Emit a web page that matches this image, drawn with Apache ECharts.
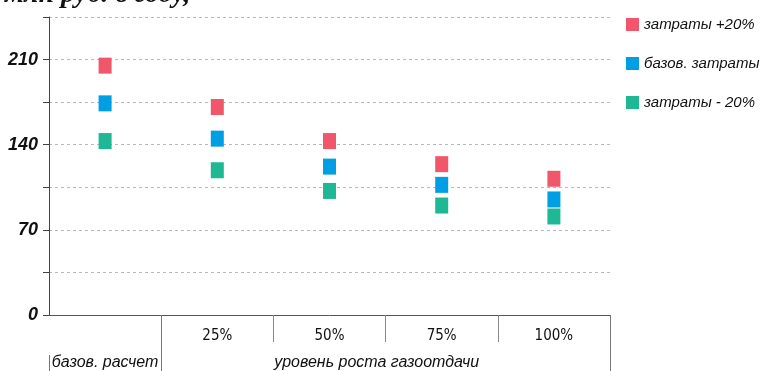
<!DOCTYPE html>
<html>
<head>
<meta charset="utf-8">
<script src="https://cdn.jsdelivr.net/npm/echarts@6/dist/echarts.min.js"></script>
<style>
  html, body { margin: 0; padding: 0; background: #fff; }
  #chart { width: 765px; height: 371px; }
</style>
</head>
<body>
<div id="chart"></div>
<script>
// Categories: base case, then gas-recovery growth levels
const categories = ['базов. расчет', '25%', '50%', '75%', '100%'];
const categoryLabels = ['', '25%', '50%', '75%', '100%'];
const groupLabels = ['базов. расчет', 'уровень роста газоотдачи'];

// Values per cost scenario
const costsPlus20 = [205, 171, 143, 124, 112];
const costsBase = [174, 145, 122, 107, 95];
const costsMinus20 = [143, 119, 102, 90, 81];

const seriesNames = ['затраты +20%', 'базов. затраты', 'затраты - 20%'];
const seriesColors = ['#f1576a', '#009fe3', '#1fb894'];

// Y axis ticks every 35, labelled every 70
const yMin = 0, yMax = 245, yStep = 35, yLabelStep = 70;

const chart = echarts.init(document.getElementById('chart'), null, { renderer: 'canvas' });

const bandAxisBase = {
  type: 'value', min: 0, max: categories.length, position: 'bottom',
  axisLine: { show: false }, splitLine: { show: false }
};

const option = {
  animation: false,
  backgroundColor: '#fff',
  title: {
    text: 'млн руб. в году,',
    left: 0, top: -24,
    textStyle: { fontFamily: 'Liberation Serif', fontStyle: 'italic', fontWeight: 'bold', fontSize: 28, color: '#111' }
  },
  grid: { left: 49, right: 155, top: 17, bottom: 56, containLabel: false, outerBoundsMode: 'none' },
  legend: {
    orient: 'vertical', left: 621, top: 12,
    itemWidth: 13, itemHeight: 13, itemGap: 24, icon: 'rect',
    textStyle: { fontFamily: 'Liberation Sans', fontStyle: 'italic', fontSize: 15, color: '#111' },
    data: seriesNames
  },
  xAxis: [
    {
      type: 'category', data: categories, position: 'bottom', boundaryGap: true,
      axisLine: { show: true, lineStyle: { color: '#555', width: 1 } },
      axisTick: { show: false },
      axisLabel: {
        margin: 14, color: '#111', fontSize: 15,
        fontFamily: '"Liberation Sans Narrow", "DejaVu Sans Condensed", "Arial Narrow", "Liberation Sans", sans-serif',
        formatter: (v, i) => categoryLabels[i]
      },
      splitLine: { show: false }
    },
    Object.assign({}, bandAxisBase, {
      axisTick: { show: true, customValues: [2, 3, 4], length: 27, lineStyle: { color: '#888' } },
      axisLabel: { show: false }
    }),
    Object.assign({}, bandAxisBase, {
      axisTick: { show: true, customValues: [1, 5], length: 62, lineStyle: { color: '#777' } },
      axisLabel: {
        show: true, customValues: [0.5, 2.92], margin: 40,
        fontFamily: 'Liberation Sans', fontStyle: 'italic', fontSize: 16, color: '#111',
        formatter: v => (v < 1 ? groupLabels[0] : groupLabels[1])
      }
    }),
    Object.assign({}, bandAxisBase, {
      offset: 40,
      axisTick: { show: true, customValues: [0], length: 22, lineStyle: { color: '#777' } },
      axisLabel: { show: false }
    })
  ],
  yAxis: {
    type: 'value', min: yMin, max: yMax, interval: yStep,
    axisLine: { show: true, lineStyle: { color: '#444' } },
    axisTick: { show: true, length: 6, lineStyle: { color: '#444' } },
    axisLabel: {
      margin: 11, color: '#111', fontSize: 18,
      fontFamily: 'Liberation Sans', fontWeight: 'bold', fontStyle: 'italic',
      formatter: v => (v % yLabelStep === 0 ? String(v) : '')
    },
    splitLine: { show: true, lineStyle: { color: '#b8b8b8', type: [3, 3], width: 1 } }
  },
  series: [costsPlus20, costsBase, costsMinus20].map((data, i) => ({
    name: seriesNames[i],
    type: 'scatter',
    xAxisIndex: 0,
    yAxisIndex: 0,
    symbol: 'rect',
    symbolSize: [13, 16],
    itemStyle: { color: seriesColors[i], opacity: 1 },
    data: data
  }))
};

chart.setOption(option);
</script>
</body>
</html>
